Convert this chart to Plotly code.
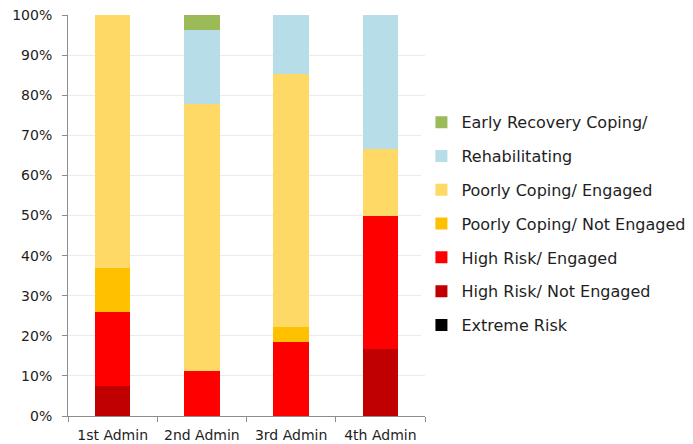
import plotly.graph_objects as go

categories = ["1st Admin", "2nd Admin", "3rd Admin", "4th Admin"]

# percentages, bottom to top
extreme_risk = [0, 0, 0, 0]
high_risk_not_engaged = [7.4, 0, 0, 16.7]
high_risk_engaged = [18.5, 11.1, 18.5, 33.3]
poorly_coping_not_engaged = [11.1, 0, 3.7, 0]
poorly_coping_engaged = [63.0, 66.7, 63.0, 16.7]
rehabilitating = [0, 18.5, 14.8, 33.3]
early_recovery = [0, 3.7, 0, 0]

series = [
    ("Extreme Risk", extreme_risk, "#000000"),
    ("High Risk/ Not Engaged", high_risk_not_engaged, "#C00000"),
    ("High Risk/ Engaged", high_risk_engaged, "#FF0000"),
    ("Poorly Coping/ Not Engaged", poorly_coping_not_engaged, "#FFC000"),
    ("Poorly Coping/ Engaged", poorly_coping_engaged, "#FFD966"),
    ("Rehabilitating", rehabilitating, "#B7DDE8"),
    ("Early Recovery Coping/", early_recovery, "#9BBB59"),
]

fig = go.Figure()
n = len(series)
for i, (name, vals, color) in enumerate(series):
    fig.add_trace(go.Bar(
        x=categories, y=vals, name=name, marker_color=color,
        marker_line_width=0, legendgroup=f"g{i}", legendrank=n - i,
    ))

fig.update_layout(
    barmode="stack",
    bargap=0.6,
    width=693, height=444,
    margin=dict(l=60, r=276, t=7, b=36, autoexpand=False),
    paper_bgcolor="white",
    plot_bgcolor="white",
    font=dict(family="DejaVu Sans, sans-serif", size=14, color="#1E1E1E"),
    legend=dict(
        traceorder="grouped",
        x=0.99, xanchor="left",
        y=0.775, yanchor="top",
        tracegroupgap=10,
        font=dict(size=16),
        itemwidth=30,
    ),
    showlegend=True,
)
fig.update_yaxes(
    range=[0, 100], dtick=10, ticksuffix="%",
    showgrid=True, gridcolor="#EBEBEB", gridwidth=1,
    showline=True, linecolor="#8C8C8C", linewidth=1,
    ticks="outside", ticklen=5, tickcolor="#8C8C8C",
    zeroline=False, automargin=False, ticklabeloverflow="allow",
    ticklabelstandoff=7,
)
fig.update_xaxes(
    showline=True, linecolor="#8C8C8C", linewidth=1,
    ticks="outside", ticklen=5, tickcolor="#8C8C8C",
    tickson="boundaries", showgrid=False, automargin=False,
    ticklabeloverflow="allow", ticklabelstandoff=6,
)

fig.write_html("out.html")
